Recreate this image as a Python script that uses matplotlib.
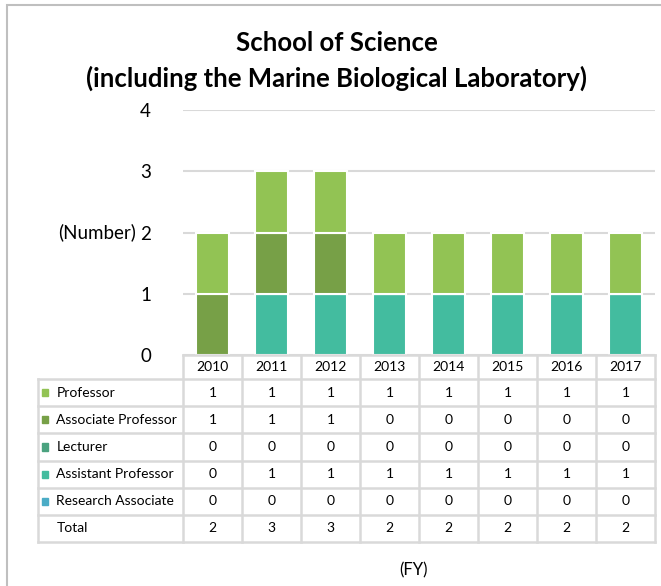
import numpy as np
import matplotlib
matplotlib.use("Agg")
from matplotlib import pyplot as plt
from matplotlib.patches import Rectangle

# DATA
years = ["2010", "2011", "2012", "2013", "2014", "2015", "2016", "2017"]
professor = [1, 1, 1, 1, 1, 1, 1, 1]
associate_professor = [1, 1, 1, 0, 0, 0, 0, 0]
lecturer = [0, 0, 0, 0, 0, 0, 0, 0]
assistant_professor = [0, 1, 1, 1, 1, 1, 1, 1]
research_associate = [0, 0, 0, 0, 0, 0, 0, 0]
yticks = [0, 1, 2, 3, 4]

# table rows, top to bottom
series = [
	("Professor", professor, "#92c354"),
	("Associate Professor", associate_professor, "#77a047"),
	("Lecturer", lecturer, "#4aa27f"),
	("Assistant Professor", assistant_professor, "#43bc9f"),
	("Research Associate", research_associate, "#4bacc6"),
]
totals = [sum(v) for v in zip(*[s[1] for s in series])]

plt.rcParams["font.family"] = ["Lato", "DejaVu Sans"]
W, H = 661, 586
fig = plt.figure(figsize=(W / 100, H / 100), dpi=100)

def px_box(x0, y0, x1, y1):
	# pixel box (top-left origin) -> figure fraction rect
	return [x0 / W, 1 - y1 / H, (x1 - x0) / W, (y1 - y0) / H]

# outer chart border (cropped on right and bottom)
fig.patches.append(Rectangle((7 / W, -0.05), 1.1, 1 - 5 / H + 0.05, transform=fig.transFigure,
	fill=False, edgecolor="#bfbfbf", linewidth=1.5))

# Bars
ax = fig.add_axes(px_box(183, 110, 655, 355))
x = np.arange(len(years))
bottom = np.zeros(len(years))
for name, vals, col in reversed(series):
	ax.bar(x, vals, bottom=bottom, width=0.57, color=col, edgecolor="white", linewidth=1.5, zorder=3)
	bottom += np.array(vals)
ax.set_xlim(-0.5, len(years) - 0.5)
ax.set_ylim(0, 4)
ax.set_yticks(yticks)
ax.set_yticklabels([str(t) for t in yticks], fontsize=13.5)
ax.tick_params(axis="y", length=0, pad=23)
ax.set_xticks([])
ax.grid(axis="y", color="#d9d9d9", linewidth=1.5, zorder=0)
for s in ax.spines.values():
	s.set_visible(False)
ax.set_ylabel("(Number)", fontsize=13.5, rotation=0, ha="right", va="center")
ax.yaxis.set_label_coords(-0.1, 0.5)

# Data table
label_w = (183 - 38) / 59.0
tab = fig.add_axes(px_box(38, 355, 655, 542))
tab.set_xlim(-0.5 - label_w, len(years) - 0.5)
hh = 24 / 27.0
nrows = len(series) + 1
tab.set_ylim(hh + nrows, 0)
tab.axis("off")
gc = "#d9d9d9"
lw = 1.8
fs = 10
# header cells
for i, yr in enumerate(years):
	tab.text(i, hh / 2, yr, ha="center", va="center", fontsize=fs)
tab.plot([-0.5, len(years) - 0.5], [0, 0], color=gc, lw=lw, clip_on=False)
for i in range(len(years) + 1):
	tab.plot([i - 0.5, i - 0.5], [0, hh + nrows], color=gc, lw=lw, clip_on=False)
tab.plot([-0.5 - label_w, -0.5 - label_w], [hh, hh + nrows], color=gc, lw=lw, clip_on=False)
for r in range(nrows + 1):
	tab.plot([-0.5 - label_w, len(years) - 0.5], [hh + r, hh + r], color=gc, lw=lw, clip_on=False)
rows = [(n, v, c) for n, v, c in series] + [("Total", totals, None)]
for r, (name, vals, col) in enumerate(rows):
	yc = hh + r + 0.5
	if col is not None:
		tab.add_patch(Rectangle((-0.5 - label_w + 0.07, yc - 0.13), 0.095, 0.26, color=col, clip_on=False))
	tab.text(-0.5 - label_w + 0.31, yc, name, ha="left", va="center", fontsize=fs)
	for i, v in enumerate(vals):
		tab.text(i, yc, str(v), ha="center", va="center", fontsize=fs)

fig.text(337 / W, 1 - 43 / H, "School of Science", ha="center", va="center", fontsize=18.5, fontweight="bold")
fig.text(337 / W, 1 - 78 / H, "(including the Marine Biological Laboratory)", ha="center", va="center",
	fontsize=18.5, fontweight="bold")
fig.text(413 / W, 1 - 570 / H, "(FY)", ha="center", va="center", fontsize=12)

fig.savefig("out.png", dpi=100)
